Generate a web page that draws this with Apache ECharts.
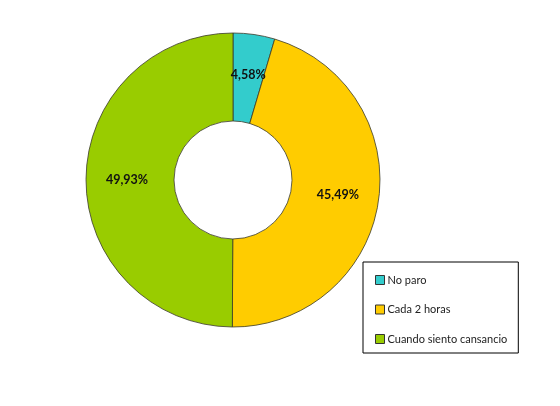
<!DOCTYPE html>
<html>
<head>
<meta charset="utf-8">
<title>Donut</title>
<script src="https://cdn.jsdelivr.net/npm/echarts@6/dist/echarts.min.js"></script>
<style>
html, body { margin: 0; padding: 0; background: #fff; }
#chart { width: 560px; height: 406px; }
</style>
</head>
<body>
<div id="chart"></div>
<script>
var categories = ['No paro', 'Cada 2 horas', 'Cuando siento cansancio'];
var values = [4.58, 45.49, 49.93];
var colors = ['#33CCCC', '#FFCC00', '#99CC00'];

var pieData = categories.map(function (c, i) {
  return { name: c, value: values[i], itemStyle: { color: colors[i] } };
});

var chart = echarts.init(document.getElementById('chart'));
chart.setOption({
  animation: false,
  legend: {
    orient: 'vertical',
    left: 363,
    top: 262,
    data: categories,
    icon: 'rect',
    itemWidth: 9,
    itemHeight: 9,
    itemGap: 18.5,
    padding: [12.5, 11, 8.5, 12],
    borderColor: '#000',
    borderWidth: 1,
    itemStyle: { borderColor: '#333', borderWidth: 1 },
    textStyle: { fontFamily: 'Lato', fontSize: 11, color: '#222', padding: [0, 0, 0, -2] }
  },
  series: [{
    type: 'pie',
    center: [233, 180],
    radius: [59, 147],
    startAngle: 90,
    clockwise: true,
    itemStyle: { borderColor: '#3a3a2a', borderWidth: 0.8 },
    label: {
      position: 'inside',
      fontFamily: 'Lato',
      fontWeight: 'bold',
      fontSize: 12.5,
      color: '#111',
      formatter: function (p) {
        return p.value.toFixed(2).replace('.', ',') + '%';
      }
    },
    labelLine: { show: false },
    emphasis: { disabled: true },
    data: pieData
  }]
});
</script>
</body>
</html>
